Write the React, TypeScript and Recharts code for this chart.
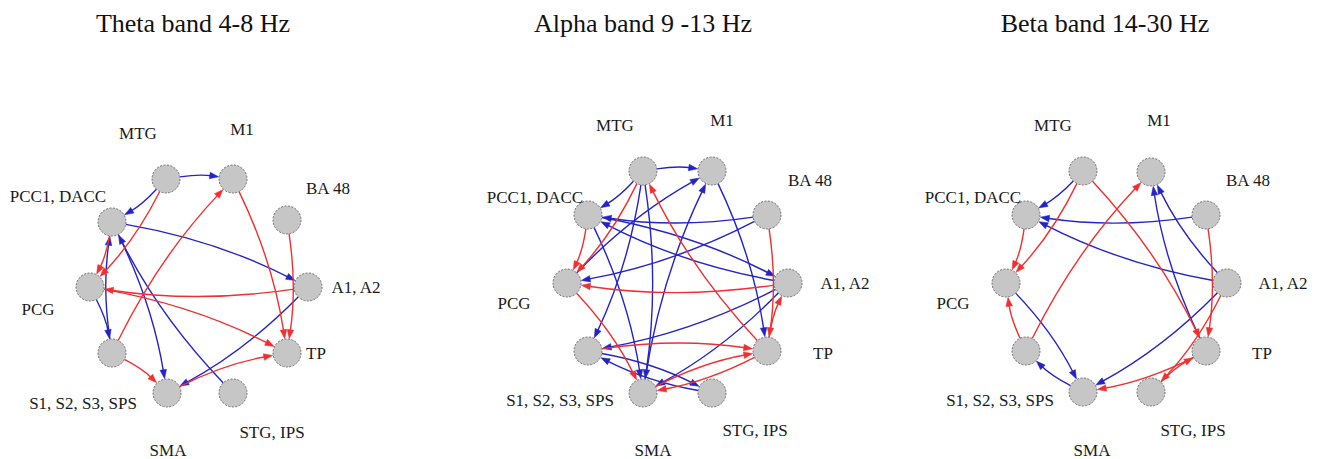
import React from 'react';
import { ScatterChart, Scatter, XAxis, YAxis } from 'recharts';

const W = 1322;
const H = 459;

// node order
const nodeIds = ['MTG', 'M1', 'BA48', 'PCC', 'A1', 'PCG', 'TP', 'S1', 'SMA', 'STG'];
const nodeLabels = ['MTG', 'M1', 'BA 48', 'PCC1, DACC', 'A1, A2', 'PCG', 'TP', 'S1, S2, S3, SPS', 'SMA', 'STG, IPS'];

// panel titles
const titles = ['Theta band 4-8 Hz', 'Alpha band 9 -13 Hz', 'Beta band 14-30 Hz'];
const titleX = [193, 643, 1105];
const titleY = [32, 32, 32];

// node layout per panel
const thetaNodeX = [166, 233, 287, 112, 308, 90, 287, 112, 167, 233];
const thetaNodeY = [179, 179, 220, 222, 287, 287, 353, 353, 393, 393];
const alphaNodeX = [643, 712, 767, 588, 788, 567, 767, 588, 643, 712];
const alphaNodeY = [171, 171, 215, 215, 283, 283, 351, 351, 393, 393];
const betaNodeX = [1083, 1151, 1206, 1026, 1227, 1006, 1206, 1026, 1083, 1151];
const betaNodeY = [171, 172, 215, 215, 283, 283, 351, 351, 392, 392];

// label anchor positions per panel
const thetaLabelX = [138, 242, 328, 58, 356, 38, 316, 83, 168, 272];
const thetaLabelY = [133, 129, 188, 196, 287, 309, 353, 403, 450, 432];
const alphaLabelX = [615, 722, 810, 535, 845, 514, 823, 560, 653, 755];
const alphaLabelY = [125, 120, 180, 197, 283, 303, 353, 400, 450, 430];
const betaLabelX = [1053, 1159, 1248, 973, 1283, 953, 1262, 1000, 1092, 1193];
const betaLabelY = [125, 120, 180, 197, 283, 303, 353, 400, 450, 430];

// directed edges: [from, to, kind]  kind: 'b' = blue, 'r' = red
type Edge = [string, string, 'b' | 'r'];
const thetaEdges: Edge[] = [
  ['MTG', 'M1', 'b'], ['MTG', 'PCC', 'b'], ['PCC', 'A1', 'b'], ['PCG', 'S1', 'b'],
  ['S1', 'PCC', 'b'], ['PCC', 'SMA', 'b'], ['STG', 'PCC', 'b'], ['A1', 'SMA', 'b'],
  ['MTG', 'PCG', 'r'], ['PCC', 'PCG', 'r'], ['M1', 'TP', 'r'], ['BA48', 'TP', 'r'],
  ['A1', 'PCG', 'r'], ['PCG', 'TP', 'r'], ['S1', 'M1', 'r'], ['S1', 'SMA', 'r'], ['SMA', 'TP', 'r'],
];
const alphaEdges: Edge[] = [
  ['MTG', 'M1', 'b'], ['MTG', 'PCC', 'b'], ['MTG', 'S1', 'b'], ['MTG', 'SMA', 'b'],
  ['PCC', 'SMA', 'b'], ['PCC', 'A1', 'b'], ['A1', 'PCC', 'b'], ['BA48', 'PCC', 'b'],
  ['BA48', 'PCG', 'b'], ['PCG', 'M1', 'b'], ['SMA', 'M1', 'b'], ['M1', 'TP', 'b'],
  ['A1', 'S1', 'b'], ['A1', 'SMA', 'b'], ['S1', 'STG', 'b'], ['STG', 'S1', 'b'],
  ['MTG', 'PCG', 'r'], ['PCC', 'PCG', 'r'], ['TP', 'MTG', 'r'], ['BA48', 'TP', 'r'],
  ['A1', 'PCG', 'r'], ['PCG', 'SMA', 'r'], ['S1', 'TP', 'r'], ['TP', 'A1', 'r'],
  ['TP', 'SMA', 'r'], ['SMA', 'TP', 'r'],
];
const betaEdges: Edge[] = [
  ['MTG', 'PCC', 'b'], ['BA48', 'PCC', 'b'], ['A1', 'PCC', 'b'], ['TP', 'M1', 'b'],
  ['A1', 'M1', 'b'], ['PCG', 'SMA', 'b'], ['SMA', 'S1', 'b'], ['A1', 'SMA', 'b'],
  ['MTG', 'PCG', 'r'], ['PCC', 'PCG', 'r'], ['MTG', 'TP', 'r'], ['S1', 'M1', 'r'],
  ['S1', 'PCG', 'r'], ['BA48', 'TP', 'r'], ['A1', 'STG', 'r'], ['TP', 'SMA', 'r'], ['STG', 'TP', 'r'],
];

const BLUE = '#2424c6';
const RED = '#f03030';
const NODE_R = 14;
const SERIF = "'Liberation Serif', 'Times New Roman', Times, serif";

const panels = [
  { nx: thetaNodeX, ny: thetaNodeY, lx: thetaLabelX, ly: thetaLabelY, edges: thetaEdges },
  { nx: alphaNodeX, ny: alphaNodeY, lx: alphaLabelX, ly: alphaLabelY, edges: alphaEdges },
  { nx: betaNodeX, ny: betaNodeY, lx: betaLabelX, ly: betaLabelY, edges: betaEdges },
];

const makeEdgeLine = (color: string) => (props: any) => {
  const pts = props.points;
  if (!pts || pts.length < 2) return <g />;
  const a = pts[0];
  const b = pts[1];
  const dx = b.x - a.x;
  const dy = b.y - a.y;
  const L = Math.hypot(dx, dy) || 1;
  const ux = dx / L;
  const uy = dy / L;
  // left normal of travel direction in screen coordinates
  const nx = uy;
  const ny = -ux;
  const k = 0.075;
  const cx = (a.x + b.x) / 2 + nx * k * L;
  const cy = (a.y + b.y) / 2 + ny * k * L;
  const sdx = cx - a.x, sdy = cy - a.y;
  const sl = Math.hypot(sdx, sdy) || 1;
  const sx = a.x + (sdx / sl) * NODE_R;
  const sy = a.y + (sdy / sl) * NODE_R;
  const edx = cx - b.x, edy = cy - b.y;
  const el = Math.hypot(edx, edy) || 1;
  const ex = b.x + (edx / el) * (NODE_R + 0.5);
  const ey = b.y + (edy / el) * (NODE_R + 0.5);
  // arrow direction = tangent at end
  const tx = ex - cx, ty = ey - cy;
  const tl = Math.hypot(tx, ty) || 1;
  const ax = tx / tl, ay = ty / tl;
  const AL = 9;
  const AW = 3.3;
  const bx = ex - ax * AL;
  const by = ey - ay * AL;
  const p1x = bx + -ay * AW, p1y = by + ax * AW;
  const p2x = bx - -ay * AW, p2y = by - ax * AW;
  const lineEndX = ex - ax * (AL - 2);
  const lineEndY = ey - ay * (AL - 2);
  return (
    <g>
      <path
        d={`M${sx},${sy} Q${cx},${cy} ${lineEndX},${lineEndY}`}
        stroke={color}
        strokeWidth={1.4}
        fill="none"
      />
      <path d={`M${ex},${ey} L${p1x},${p1y} L${p2x},${p2y} Z`} fill={color} stroke={color} strokeWidth={0.5} />
    </g>
  );
};

const blueLine = makeEdgeLine(BLUE);
const redLine = makeEdgeLine(RED);

const emptyShape = () => <g />;

const nodeShape = (p: any) => (
  <circle cx={p.cx} cy={p.cy} r={NODE_R} fill="#c6c6c6" stroke="#6e6e6e" strokeWidth={1} strokeDasharray="2 1.5" />
);

const labelShape = (p: any) => (
  <text x={p.cx} y={p.cy + 6} textAnchor="middle" fontFamily={SERIF} fontSize={17} fill="#1a1a1a">
    {p.payload.text}
  </text>
);

const titleShape = (p: any) => (
  <text x={p.cx} y={p.cy} textAnchor="middle" fontFamily={SERIF} fontSize={26} fill="#111">
    {p.payload.text}
  </text>
);

export default function App() {
  const titleData = titles.map((t, i) => ({ x: titleX[i], y: titleY[i], text: t }));
  return (
    <div style={{ position: 'absolute', left: 0, top: 0, width: W, height: H, background: '#fff' }}>
      <ScatterChart width={W} height={H} margin={{ top: 0, right: 0, bottom: 0, left: 0 }}>
        <XAxis type="number" dataKey="x" domain={[0, W]} hide allowDataOverflow />
        <YAxis type="number" dataKey="y" domain={[0, H]} reversed hide allowDataOverflow />
        <Scatter data={titleData} shape={titleShape} isAnimationActive={false} />
        {panels.map((pn, pi) =>
          pn.edges.map(([from, to, kind], ei) => {
            const fi = nodeIds.indexOf(from);
            const ti = nodeIds.indexOf(to);
            const data = [
              { x: pn.nx[fi], y: pn.ny[fi] },
              { x: pn.nx[ti], y: pn.ny[ti] },
            ];
            return (
              <Scatter
                key={`e-${pi}-${ei}`}
                data={data}
                line={kind === 'b' ? blueLine : redLine}
                lineType="joint"
                shape={emptyShape}
                isAnimationActive={false}
              />
            );
          })
        )}
        {panels.map((pn, pi) => (
          <Scatter
            key={`n-${pi}`}
            data={nodeIds.map((id, i) => ({ x: pn.nx[i], y: pn.ny[i], id }))}
            shape={nodeShape}
            isAnimationActive={false}
          />
        ))}
        {panels.map((pn, pi) => (
          <Scatter
            key={`l-${pi}`}
            data={nodeLabels.map((t, i) => ({ x: pn.lx[i], y: pn.ly[i], text: t }))}
            shape={labelShape}
            isAnimationActive={false}
          />
        ))}
      </ScatterChart>
    </div>
  );
}
